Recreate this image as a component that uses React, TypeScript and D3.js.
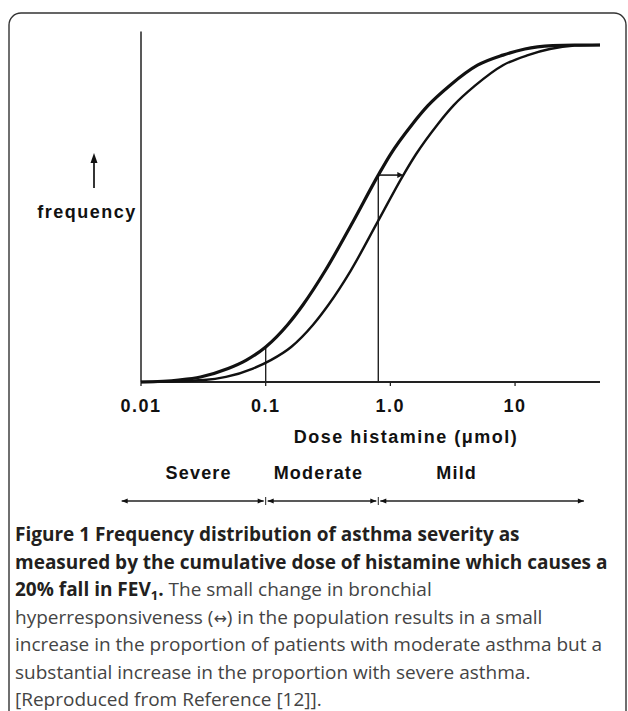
import * as d3 from 'd3';

// dose (µmol) vs cumulative frequency
const upperDose = [0.01, 0.02, 0.03, 0.05, 0.07, 0.1, 0.15, 0.2, 0.3, 0.5, 0.8, 1.0, 1.5, 2, 3, 5, 8, 12, 20, 30, 48];
const upperFreq = [0, 0.006, 0.015, 0.04, 0.065, 0.104, 0.17, 0.23, 0.33, 0.475, 0.614, 0.675, 0.765, 0.82, 0.88, 0.94, 0.97, 0.988, 0.998, 1.0, 1.0];

const lowerDose = [0.01, 0.032, 0.048, 0.079, 0.11, 0.16, 0.24, 0.32, 0.48, 0.79, 1.27, 1.6, 2.4, 3.2, 4.8, 8, 12.7, 19, 30, 48];
const lowerFreq = [0, 0.006, 0.015, 0.04, 0.065, 0.104, 0.17, 0.23, 0.33, 0.475, 0.614, 0.675, 0.765, 0.82, 0.88, 0.94, 0.97, 0.988, 0.998, 1.0];

const tickValues = [0.01, 0.1, 1, 10];
const tickLabels = ['0.01', '0.1', '1.0', '10'];

// vertical guide lines (dose, height reached on the upper curve)
const guideDose = [0.1, 0.8];
const guideFreq = [0.104, 0.614];
const shiftTo = 1.27; // horizontal shift arrow end

const severityBounds = [0.007, 0.1, 0.8, 37];
const severityLabels = ['Severe', 'Moderate', 'Mild'];
const severityLabelDose = [0.029, 0.265, 3.4];

const W = 628;
const H = 711;
const axisFont = "'Liberation Sans', Arial, sans-serif";
const capFont = "'Open Sans', 'Noto Sans', sans-serif";

export default function App() {
  const x = d3.scaleLog().domain([0.01, 48]).range([141, 600]);
  const y = d3.scaleLinear().domain([0, 1]).range([382, 45]);

  const line = d3
    .line<[number, number]>()
    .x((d) => x(d[0]))
    .y((d) => y(d[1]))
    .curve(d3.curveMonotoneX);

  const upper = upperDose.map((d, i) => [d, upperFreq[i]] as [number, number]);
  const lower = lowerDose.map((d, i) => [d, lowerFreq[i]] as [number, number]);

  const sevY = 501;
  const ah = (px: number, dir: number) =>
    `M${px},${sevY} L${px - dir * 6},${sevY - 2.5} L${px - dir * 6},${sevY + 2.5} Z`;

  const capLines = [541, 568.5, 596, 623.5, 651, 678.5, 706];

  return (
    <svg
      width={W}
      height={H}
      viewBox={`0 0 ${W} ${H}`}
      style={{ position: 'absolute', left: 0, top: 0, background: '#fff' }}
    >
      {/* frame */}
      <rect x={9} y={13} width={617} height={760} rx={12} fill="none" stroke="#333" strokeWidth={1.4} />

      {/* axes */}
      <line x1={x(0.01)} x2={x(0.01)} y1={y(0)} y2={y(1.04)} stroke="#222" strokeWidth={1.5} />
      <line x1={x(0.01)} x2={x(48)} y1={y(0)} y2={y(0)} stroke="#222" strokeWidth={1.8} />
      {tickValues.map((t, i) => (
        <g key={t}>
          <line x1={x(t)} x2={x(t)} y1={y(0)} y2={y(0) + 4} stroke="#222" strokeWidth={1.3} />
          <text
            x={x(t)}
            y={412}
            textAnchor="middle"
            fontFamily={axisFont}
            fontWeight="bold"
            fontSize={18}
            letterSpacing={1.5}
            fill="#111"
          >
            {tickLabels[i]}
          </text>
        </g>
      ))}
      <text x={406} y={443} textAnchor="middle" fontFamily={axisFont} fontWeight="bold" fontSize={18} letterSpacing={1.5} fill="#111">
        Dose histamine  (μmol)
      </text>

      {/* y label */}
      <text x={87} y={218} textAnchor="middle" fontFamily={axisFont} fontWeight="bold" fontSize={18} letterSpacing={1.5} fill="#111">
        frequency
      </text>
      <line x1={94} x2={94} y1={188} y2={161} stroke="#111" strokeWidth={1.7} />
      <path d="M94,153 L90.5,163 L97.5,163 Z" fill="#111" />

      {/* guide lines */}
      {guideDose.map((g, i) => (
        <line key={g} x1={x(g)} x2={x(g)} y1={y(0)} y2={y(guideFreq[i])} stroke="#222" strokeWidth={1.4} />
      ))}
      <line x1={x(guideDose[1])} x2={x(shiftTo) - 4} y1={y(guideFreq[1])} y2={y(guideFreq[1])} stroke="#111" strokeWidth={1.5} />
      <path
        d={`M${x(shiftTo)},${y(guideFreq[1])} L${x(shiftTo) - 6},${y(guideFreq[1]) - 3} L${x(shiftTo) - 6},${y(guideFreq[1]) + 3} Z`}
        fill="#111"
      />

      {/* curves */}
      <path d={line(lower) ?? ''} fill="none" stroke="#111" strokeWidth={2.4} />
      <path d={line(upper) ?? ''} fill="none" stroke="#111" strokeWidth={3.2} />

      {/* severity bands */}
      {severityLabels.map((s, i) => (
        <text
          key={s}
          x={x(severityLabelDose[i])}
          y={479}
          textAnchor="middle"
          fontFamily={axisFont}
          fontWeight="bold"
          fontSize={18}
          letterSpacing={1.2}
          fill="#111"
        >
          {s}
        </text>
      ))}
      {severityLabels.map((s, i) => {
        const a = x(severityBounds[i]);
        const b = x(severityBounds[i + 1]);
        return (
          <g key={s + 'seg'}>
            <line x1={a + (i === 0 ? 0 : 2)} x2={b - 2} y1={sevY} y2={sevY} stroke="#222" strokeWidth={1.4} />
            <path d={ah(a + (i === 0 ? 0 : 2), -1)} fill="#111" />
            <path d={ah(b - 2, 1)} fill="#111" />
          </g>
        );
      })}
      {severityBounds.slice(1, 3).map((b) => (
        <line key={b} x1={x(b)} x2={x(b)} y1={sevY - 4} y2={sevY + 4} stroke="#222" strokeWidth={1} />
      ))}

      {/* caption */}
      <g fontFamily={capFont} fontSize={19} fill="#231f20">
        <text x={15} y={capLines[0]} fontWeight="bold">Figure 1 Frequency distribution of asthma severity as</text>
        <text x={15} y={capLines[1]} fontWeight="bold">measured by the cumulative dose of histamine which causes a</text>
        <text x={15} y={capLines[2]}>
          <tspan fontWeight="bold">20% fall in FEV</tspan>
          <tspan fontWeight="bold" fontSize={13} dy={4}>1</tspan>
          <tspan fontWeight="bold" dy={-4}>.</tspan>
          <tspan fill="#444"> The small change in bronchial</tspan>
        </text>
        <text x={15} y={capLines[3]} fill="#444">
          hyperresponsiveness (<tspan fontFamily="'DejaVu Sans', sans-serif" fontSize={16}>↔</tspan>) in the population results in a small
        </text>
        <text x={15} y={capLines[4]} fill="#444">increase in the proportion of patients with moderate asthma but a</text>
        <text x={15} y={capLines[5]} fill="#444">substantial increase in the proportion with severe asthma.</text>
        <text x={15} y={capLines[6]} fill="#444">[Reproduced from Reference [12]].</text>
      </g>
    </svg>
  );
}
